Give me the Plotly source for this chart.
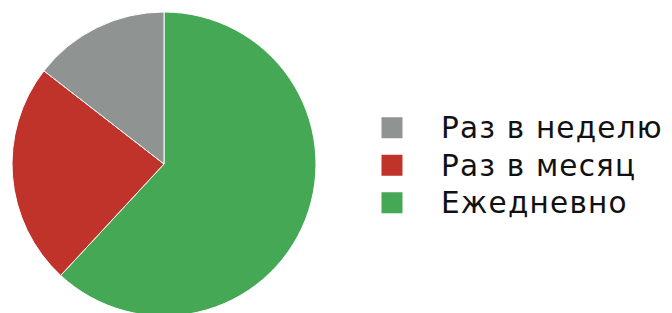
import plotly.graph_objects as go

labels = ["Раз в неделю", "Раз в месяц", "Ежедневно"]
values = [14.5, 23.6, 61.9]
colors = ["#8f9392", "#c0332b", "#45a854"]

fig = go.Figure()

# main pie: drawn clockwise from 12 o'clock, largest slice first
fig.add_trace(
    go.Pie(
        labels=labels[::-1],
        values=values[::-1],
        marker=dict(colors=colors[::-1], line=dict(color="white", width=1)),
        sort=False,
        direction="clockwise",
        rotation=0,
        textinfo="none",
        hoverinfo="label+percent",
        showlegend=False,
        domain=dict(x=[0.00595, 0.45833], y=[0.01597, 0.98722]),
    )
)

# legend entries with large square swatches
for lab, col in zip(labels, colors):
    fig.add_trace(
        go.Scatter(
            x=[None],
            y=[None],
            mode="markers",
            name=f'<span style="font-size:29.5px;letter-spacing:1.2px">{lab}</span>',
            marker=dict(symbol="square", size=16, color=col, line=dict(color=col, width=5)),
            hoverinfo="skip",
        )
    )

fig.update_layout(
    width=672,
    height=313,
    margin=dict(l=0, r=0, t=0, b=0),
    paper_bgcolor="white",
    plot_bgcolor="white",
    xaxis=dict(visible=False),
    yaxis=dict(visible=False),
    showlegend=True,
    legend=dict(
        x=0.4985,
        y=0.4968,
        xanchor="left",
        yanchor="middle",
        itemwidth=88,
        font=dict(family="DejaVu Sans, sans-serif", size=26.5, color="#111111"),
        traceorder="normal",
        bgcolor="rgba(0,0,0,0)",
    ),
)

fig.write_html("out.html")
